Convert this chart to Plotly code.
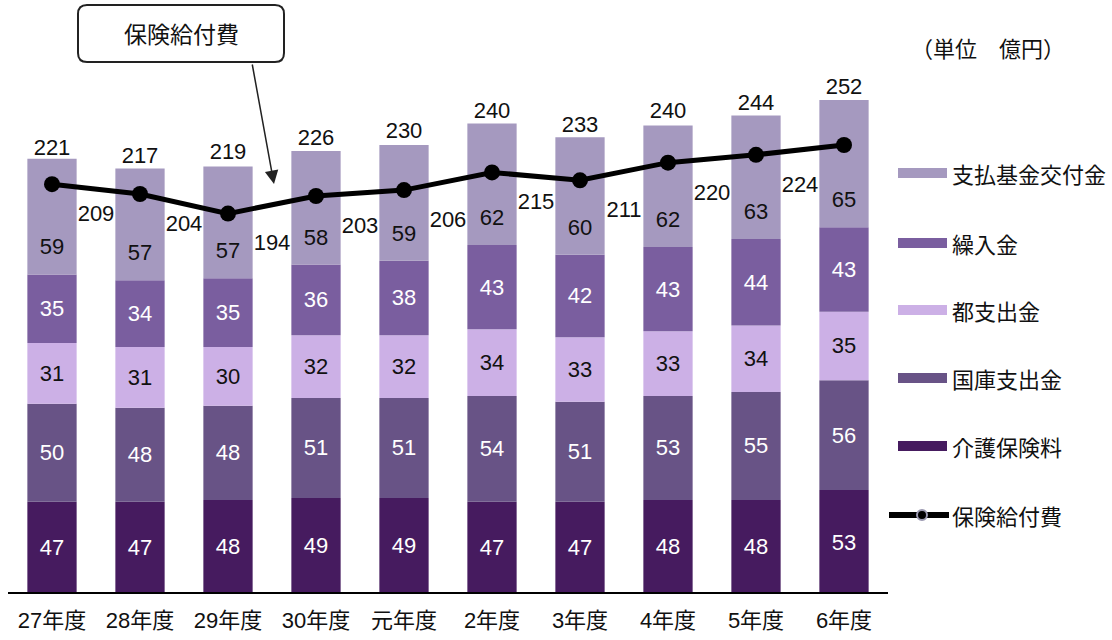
import re
import plotly.graph_objects as go

# 年度ごとの財源内訳（単位 億円）
years = ["27年度", "28年度", "29年度", "30年度", "元年度", "2年度", "3年度", "4年度", "5年度", "6年度"]
kaigo_hokenryo = [47, 47, 48, 49, 49, 47, 47, 48, 48, 53]     # 介護保険料
kokko_shishutsu = [50, 48, 48, 51, 51, 54, 51, 53, 55, 56]    # 国庫支出金
to_shishutsu = [31, 31, 30, 32, 32, 34, 33, 33, 34, 35]       # 都支出金
kurinyu = [35, 34, 35, 36, 38, 43, 42, 43, 44, 43]            # 繰入金
shiharai_kikin = [59, 57, 57, 58, 59, 62, 60, 62, 63, 65]     # 支払基金交付金
totals = [221, 217, 219, 226, 230, 240, 233, 240, 244, 252]   # 歳入合計
hoken_kyufu = [209, 204, 194, 203, 206, 215, 211, 220, 224, 229]  # 保険給付費

FONT = "Noto Sans CJK JP"
NUM_FONT = "Liberation Sans, Noto Sans CJK JP"
x = list(range(len(years)))

series = [
    ("介護保険料", kaigo_hokenryo, "#461B5F", "white"),
    ("国庫支出金", kokko_shishutsu, "#685386", "white"),
    ("都支出金", to_shishutsu, "#CCB0E6", "#111111"),
    ("繰入金", kurinyu, "#7A5E9F", "white"),
    ("支払基金交付金", shiharai_kikin, "#A599BF", "#111111"),
]

fig = go.Figure()

base = [0] * len(years)
for i, (name, vals, color, tcolor) in enumerate(series):
    top = i == len(series) - 1
    fig.add_trace(go.Bar(
        x=x, y=vals, base=base, name=name, marker=dict(color=color, line=dict(width=0)),
        width=0.56,
        text=None if top else [str(v) for v in vals],
        textposition="inside", insidetextanchor="middle",
        textfont=dict(family=NUM_FONT, size=22, color=tcolor),
        showlegend=False, hoverinfo="y+name",
    ))
    if top:
        # 最上段のラベルは折れ線と重ならないよう下寄せ
        fig.add_trace(go.Scatter(
            x=x, y=[b + 13 for b in base], mode="text",
            text=[str(v) for v in vals],
            textfont=dict(family=NUM_FONT, size=22, color=tcolor),
            showlegend=False, hoverinfo="skip",
        ))
    base = [b + v for b, v in zip(base, vals)]

# 合計ラベル
fig.add_trace(go.Scatter(
    x=x, y=totals, mode="text", text=[str(t) for t in totals],
    textposition="top center",
    textfont=dict(family=NUM_FONT, size=22, color="#111111"),
    showlegend=False, hoverinfo="skip",
))

# 保険給付費の折れ線
fig.add_trace(go.Scatter(
    x=x, y=hoken_kyufu, mode="lines+markers", name="保険給付費",
    line=dict(color="black", width=5),
    marker=dict(color="black", size=16),
    showlegend=False,
))

# 保険給付費の値ラベル（点の右下）
label_x = [v + 0.5 for v in x[:-1]] + [x[-1] + 0.58]
label_y = [v - 16 for v in hoken_kyufu[:-1]] + [hoken_kyufu[-1] - 1]
fig.add_trace(go.Scatter(
    x=label_x, y=label_y, mode="text", text=[str(v) for v in hoken_kyufu],
    textfont=dict(family=NUM_FONT, size=22, color="#111111"),
    showlegend=False, hoverinfo="skip", cliponaxis=False,
))

# 凡例（手描き）
W, T, B = 1112, 45, 594
PL, PR = 8, 888


def px_x(p):
    return (p - PL) / (PR - PL)


def px_y(q):
    return (B - q) / (B - T)


shapes = []
annotations = []
legend_rows = [
    ("支払基金交付金", "#A599BF", 173),
    ("繰入金", "#7A5E9F", 243),
    ("都支出金", "#CCB0E6", 310),
    ("国庫支出金", "#685386", 378),
    ("介護保険料", "#461B5F", 446),
]
for name, color, yy in legend_rows:
    shapes.append(dict(type="rect", xref="paper", yref="paper",
                       x0=px_x(898), x1=px_x(947), y0=px_y(yy + 5), y1=px_y(yy - 5),
                       fillcolor=color, line=dict(width=0)))
    annotations.append(dict(xref="paper", yref="paper", x=px_x(950), y=px_y(yy),
                            text=name, showarrow=False, xanchor="left", yanchor="middle",
                            font=dict(family=FONT, size=22, color="#111111")))

yl = 515
shapes.append(dict(type="line", xref="paper", yref="paper",
                   x0=px_x(889), x1=px_x(949), y0=px_y(yl), y1=px_y(yl),
                   line=dict(color="black", width=6)))
shapes.append(dict(type="circle", xref="paper", yref="paper",
                   x0=px_x(917), x1=px_x(927), y0=px_y(yl + 5), y1=px_y(yl - 5),
                   fillcolor="black", line=dict(color="#9a98b0", width=2)))
annotations.append(dict(xref="paper", yref="paper", x=px_x(950), y=px_y(yl),
                        text="保険給付費", showarrow=False, xanchor="left", yanchor="middle",
                        font=dict(family=FONT, size=22, color="#111111")))

# 単位
annotations.append(dict(xref="paper", yref="paper", x=px_x(988), y=px_y(47),
                        text="（単位　億円）", showarrow=False, xanchor="center", yanchor="middle",
                        font=dict(family=FONT, size=22, color="#111111")))

# 吹き出し（角丸の枠）
bx0, bx1, by0, by1, r = 78, 284, 5, 62, 9
path = (
    f"M {bx0 + r},{by0} L {bx1 - r},{by0} Q {bx1},{by0} {bx1},{by0 + r} "
    f"L {bx1},{by1 - r} Q {bx1},{by1} {bx1 - r},{by1} "
    f"L {bx0 + r},{by1} Q {bx0},{by1} {bx0},{by1 - r} "
    f"L {bx0},{by0 + r} Q {bx0},{by0} {bx0 + r},{by0} Z"
)


def conv(m):
    a, b = float(m.group(1)), float(m.group(2))
    return f"{px_x(a):.5f},{px_y(b):.5f}"


# ピクセル座標の角丸パスを paper 座標へ変換
paper_path = re.sub(r"(-?\d+(?:\.\d+)?),(-?\d+(?:\.\d+)?)", conv, path)
shapes.append(dict(type="path", xref="paper", yref="paper", path=paper_path,
                   fillcolor="white", line=dict(color="#222222", width=2)))
annotations.append(dict(xref="paper", yref="paper", x=px_x((bx0 + bx1) / 2), y=px_y(33),
                        text="保険給付費", showarrow=False, xanchor="center", yanchor="middle",
                        font=dict(family=FONT, size=23, color="#111111")))
# 矢印
annotations.append(dict(xref="paper", yref="paper", x=px_x(274), y=px_y(184),
                        axref="pixel", ayref="pixel", ax=-22, ay=-121,
                        text="", showarrow=True, arrowhead=2, arrowsize=1.8,
                        arrowwidth=1.5, arrowcolor="#222222"))

fig.update_layout(
    width=W, height=640,
    margin=dict(l=PL, r=W - PR, t=T, b=640 - B, autoexpand=False),
    paper_bgcolor="white", plot_bgcolor="white",
    barmode="overlay",
    font=dict(family=FONT, size=20, color="#111111"),
    xaxis=dict(range=[-0.5, 9.5], tickmode="array", tickvals=x, ticktext=years,
               showgrid=False, zeroline=False, showline=False, automargin=False,
               tickfont=dict(family=NUM_FONT, size=22, color="#111111"), ticks="",
               ticklabelstandoff=11),
    yaxis=dict(range=[0, 280], visible=False, showgrid=False, zeroline=False,
               automargin=False),
    shapes=shapes + [dict(type="line", xref="paper", yref="y", x0=0, x1=1, y0=0, y1=0,
                          line=dict(color="black", width=4))],
    annotations=annotations,
    showlegend=False,
)

fig.write_html("out.html")
